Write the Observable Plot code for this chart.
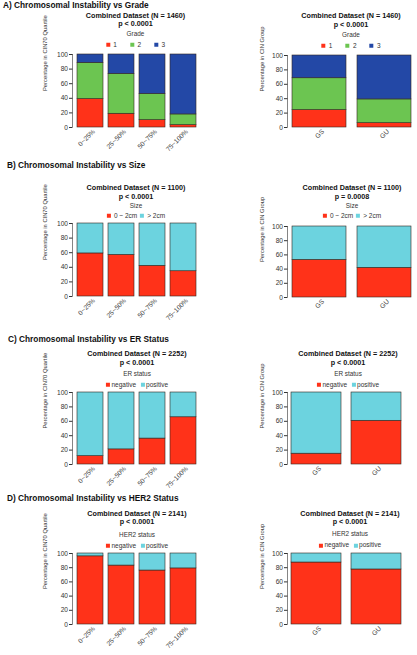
<!DOCTYPE html>
<html><head><meta charset="utf-8">
<script src="https://cdn.jsdelivr.net/npm/d3@7"></script>
<script src="https://cdn.jsdelivr.net/npm/@observablehq/plot@0.6"></script>
<style>
body{margin:0;background:#fff;}
#root{position:relative;width:417px;height:655px;overflow:hidden;font-family:"Liberation Sans",Arial,sans-serif;background:#fff;}
.abs{position:absolute;white-space:nowrap;line-height:1;}
.sec{font-weight:bold;font-size:8.3px;color:#111;transform:translate(0,-50%);}
.ttl{font-weight:bold;font-size:7.2px;color:#111;transform:translate(-50%,-50%);}
.lt{font-size:6.4px;color:#333;transform:translate(-50%,-50%);}
.lg{display:flex;align-items:center;font-size:6.5px;color:#333;transform:translate(-50%,-50%);}
.sw{width:4px;height:4px;display:inline-block;}
svg{position:absolute;overflow:visible;}
</style></head><body><div id="root"></div><script>
// ---- data ----
const quartiles = ["0~25%", "25~50%", "50~75%", "75~100%"];
const cinGroups = ["GS", "GU"];
const gradeLevels = ["1", "2", "3"];
const sizeLevels = ["0 ~ 2cm", "> 2cm"];
const statusLevels = ["negative", "positive"];

const gradeQ1 = [39.0, 18.8, 10.0, 3.2];
const gradeQ2 = [49.5, 54.6, 35.9, 14.7];
const gradeQ3 = [11.5, 26.6, 54.1, 82.1];
const gradeG1 = [24.2, 6.0];
const gradeG2 = [44.2, 33.0];
const gradeG3 = [31.6, 61.0];

const sizeQSmall = [59.0, 57.0, 42.0, 34.6];
const sizeQLarge = [41.0, 43.0, 58.0, 65.4];
const sizeGSmall = [53.0, 41.8];
const sizeGLarge = [47.0, 58.2];

const erQNeg = [11.6, 21.0, 36.0, 65.6];
const erQPos = [88.4, 79.0, 64.0, 34.4];
const erGNeg = [15.0, 60.7];
const erGPos = [85.0, 39.3];

const her2QNeg = [96.0, 83.0, 76.0, 79.0];
const her2QPos = [4.0, 17.0, 24.0, 21.0];
const her2GNeg = [87.3, 77.5];
const her2GPos = [12.7, 22.5];

const sectionTitles = ["A) Chromosomal Instability vs Grade", "B) Chromosomal Instability vs Size", "C) Chromosomal Instability vs ER Status", "D) Chromosomal Instability vs HER2 Status"];
const datasetTitles = ["Combined Dataset (N = 1460)", "Combined Dataset (N = 1100)", "Combined Dataset (N = 2252)", "Combined Dataset (N = 2141)"];
const pLeft = ["p < 0.0001", "p < 0.0001", "p < 0.0001", "p < 0.0001"];
const pRight = ["p < 0.0001", "p = 0.0008", "p < 0.0001", "p < 0.0001"];
const legendTitles = ["Grade", "Size", "ER status", "HER2 status"];
const yLabelLeft = "Percentage in CIN70 Quartile";
const yLabelRight = "Percentage in CIN Group";
const yTicks = [0, 20, 40, 60, 80, 100];

const gradeColors = ["#FF3219", "#6CC551", "#2348A6"];
const twoColors = ["#FF3219", "#6CD3DF"];

// ---- helpers ----
const root = document.getElementById("root");
const FONT = '"Liberation Sans", Arial, sans-serif';

function rows(cats, levels, series) {
  const out = [];
  cats.forEach((c, i) => levels.forEach((l, j) => out.push({cat: c, level: l, value: series[j][i]})));
  return out;
}

function div(cls, text, x, y) {
  const d = document.createElement("div");
  d.className = "abs " + cls;
  d.textContent = text;
  d.style.left = x + "px";
  d.style.top = y + "px";
  root.appendChild(d);
  return d;
}

function legend(levels, colors, cx, cy, swGap, itemGap) {
  const d = document.createElement("div");
  d.className = "abs lg";
  d.style.left = cx + "px";
  d.style.top = cy + "px";
  levels.forEach((l, i) => {
    const s = document.createElement("span");
    s.className = "sw";
    s.style.background = colors[i];
    s.style.marginRight = swGap + "px";
    if (i > 0) s.style.marginLeft = itemGap + "px";
    d.appendChild(s);
    const t = document.createElement("span");
    t.textContent = l;
    d.appendChild(t);
  });
  root.appendChild(d);
}

function chart(cfg) {
  const mt = 3, mb = 36;
  const svgLeft = cfg.svgLeft, svgWidth = cfg.svgWidth;
  const p = Plot.plot({
    width: svgWidth,
    height: mt + (cfg.y1 - cfg.y0) + mb,
    marginLeft: cfg.x0 - svgLeft,
    marginRight: svgLeft + svgWidth - cfg.x1,
    marginTop: mt,
    marginBottom: mb,
    style: {fontFamily: FONT, fontSize: "6.6px", color: "#333", background: "transparent", overflow: "visible"},
    x: {domain: cfg.cats, paddingInner: 0.17, paddingOuter: 0, label: null},
    y: {domain: [0, 100], label: null},
    color: {domain: cfg.levels, range: cfg.colors},
    marks: [
      Plot.barY(cfg.data, {x: "cat", y: "value", fill: "level", stroke: "#33261e", strokeWidth: 0.6}),
      Plot.axisY({ticks: yTicks, tickSize: 3.5, tickPadding: 1.5, dx: -3.5, fontSize: 6.6, label: null, stroke: "#333"}),
      Plot.axisX({tickSize: 0, tickRotate: -45, tickPadding: 3, dx: 3.5, fontSize: 6.6, label: null, fill: "#444"}),
      (index, scales, values, dim) => {
        const l = d3.create("svg:line")
          .attr("x1", dim.marginLeft - 3.5).attr("x2", dim.marginLeft - 3.5)
          .attr("y1", dim.marginTop).attr("y2", dim.height - dim.marginBottom)
          .attr("stroke", "#333").attr("stroke-width", 0.6);
        return l.node();
      },
      Plot.text([cfg.ylabel], {text: d => d, frameAnchor: "left", rotate: -90, dx: cfg.ylx, fontSize: 5.8, fill: "#333"})
    ]
  });
  p.style.left = svgLeft + "px";
  p.style.top = (cfg.y0 - mt) + "px";
  root.appendChild(p);
}

// ---- layout ----
const secY = [4.6, 165, 339, 498];
const secX = [3, 7, 8, 7];
const leftFrames = [[54, 127], [223, 296], [392, 464], [553, 624]];
const rightFrames = [[55, 127], [226, 297], [392, 464], [553, 624]];
const rightX1 = [411, 411, 401, 401];
const leftText = [[15.7, 24.3, 33.7, 45], [188.3, 196.7, 205.7, 216], [354.3, 363.3, 374, 384.7], [514, 522.3, 535, 545.7]];
const rightText = [[15.7, 25, 35, 46], [187.7, 196.7, 206, 216], [354.3, 363.3, 374.3, 384.7], [514, 522.3, 534.3, 545.3]];
const leftCx = [135.5, 136, 137, 137];
const rightCx = [351, 352, 348, 350];

const panelData = [
  {levels: gradeLevels, colors: gradeColors, q: [gradeQ1, gradeQ2, gradeQ3], g: [gradeG1, gradeG2, gradeG3], swGap: 3.5, itemGap: 13},
  {levels: sizeLevels, colors: twoColors, q: [sizeQSmall, sizeQLarge], g: [sizeGSmall, sizeGLarge], swGap: 3, itemGap: 3},
  {levels: statusLevels, colors: twoColors, q: [erQNeg, erQPos], g: [erGNeg, erGPos], swGap: 1.5, itemGap: 4.5},
  {levels: statusLevels, colors: twoColors, q: [her2QNeg, her2QPos], g: [her2GNeg, her2GPos], swGap: 1.5, itemGap: 4.5}
];

panelData.forEach((pd, i) => {
  div("sec", sectionTitles[i], secX[i], secY[i]);
  // left
  const lt = leftText[i];
  div("ttl", datasetTitles[i], leftCx[i], lt[0]);
  div("ttl", pLeft[i], leftCx[i], lt[1]);
  div("lt", legendTitles[i], leftCx[i], lt[2]);
  legend(pd.levels, pd.colors, leftCx[i], lt[3], pd.swGap, pd.itemGap);
  chart({cats: quartiles, levels: pd.levels, colors: pd.colors, data: rows(quartiles, pd.levels, pd.q),
    x0: 76, x1: 197, y0: leftFrames[i][0], y1: leftFrames[i][1], svgLeft: 0, svgWidth: 210,
    ylabel: yLabelLeft, ylx: -31});
  // right
  const rt = rightText[i];
  div("ttl", datasetTitles[i], rightCx[i], rt[0]);
  div("ttl", pRight[i], rightCx[i], rt[1]);
  div("lt", legendTitles[i], rightCx[i], rt[2]);
  legend(pd.levels, pd.colors, rightCx[i], rt[3], pd.swGap, pd.itemGap);
  chart({cats: cinGroups, levels: pd.levels, colors: pd.colors, data: rows(cinGroups, pd.levels, pd.g),
    x0: 291, x1: rightX1[i], y0: rightFrames[i][0], y1: rightFrames[i][1], svgLeft: 210, svgWidth: 207,
    ylabel: yLabelRight, ylx: -29});
});
</script></body></html>
